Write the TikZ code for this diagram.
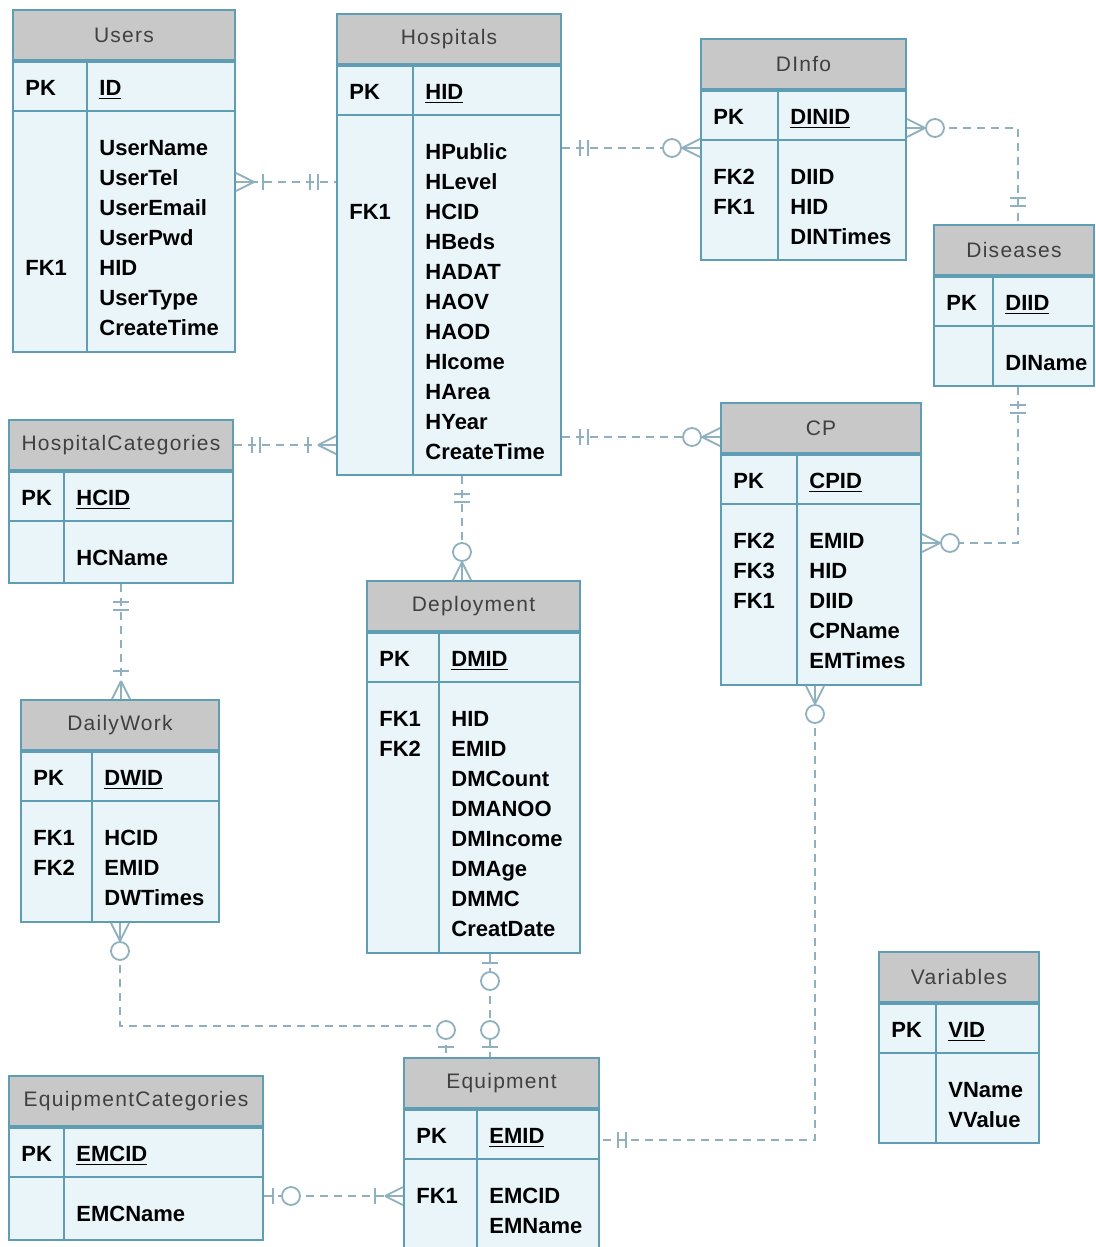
\documentclass[tikz,border=0pt]{standalone}
\usepackage{fontspec}
\setmainfont{Liberation Sans}
\newfontfamily\headfont[LetterSpace=6]{Liberation Sans}
\usepackage{tikz}
\usetikzlibrary{
    decorations.markings,
}
\usepackage{xcolor}
\definecolor{tabline}{HTML}{5E9DB3}
\definecolor{tabfill}{HTML}{EAF5FA}
\definecolor{tabhead}{HTML}{C8C8C8}
\definecolor{headtext}{HTML}{404040}
\definecolor{relline}{HTML}{8FB0BE}
\newdimen\erunit
\erunit=0.5pt
% #1 name, #2 top left, #3 width, #4 key column, #5 lower height,
% #6 title, #7 primary key, #8 remaining rows
\newcommand{\ertable}[8]{%
  \node[thead, minimum width=#3*\erunit, anchor=north west] (#1) at #2 {#6};
  \node[tbox, minimum width=#3*\erunit, minimum height=#5*\erunit,
        anchor=north west] (#1-b) at (#1.south west) {};
  \draw[tgrid] ([yshift=-25pt]#1-b.north west) -- ([yshift=-25pt]#1-b.north east);
  \draw[tgrid] ([xshift=#4*\erunit]#1-b.north west) -- ([xshift=#4*\erunit]#1-b.south west);
  \node[trows, anchor=north west] (#1-t) at ([xshift=6.5pt,yshift=-6.5pt]#1-b.north west)
    {\begin{tabular}{@{}p{\dimexpr#4\erunit-6.5pt\relax}@{\hspace{6pt}}l@{}}
       PK & \underline{#7}\\ & \\ #8
     \end{tabular}};
}

\begin{document}
\begin{tikzpicture}[
    x=0.5pt, y=-0.5pt,
    thead/.style = {draw=tabline, fill=tabhead, line width=1pt,
                    minimum height=25pt, inner sep=0pt, text=headtext,
                    font=\headfont\fontsize{10.5}{12}\selectfont},
    tbox/.style  = {draw=tabline, fill=tabfill, line width=1pt, inner sep=0pt},
    tgrid/.style = {draw=tabline, line width=1pt},
    trows/.style = {inner sep=0pt, font=\fontsize{11}{15}\selectfont\bfseries},
    rel/.style   = {draw=relline, line width=0.9pt, dash pattern=on 4pt off 3pt},
    relmark/.style = {draw=relline, line width=0.9pt, solid},
    from one/.style   = {postaction={decorate, decoration={markings,
        mark=at position 9pt with {\draw[relmark] (0,-4pt) -- (0,4pt);},
        mark=at position 13pt with {\draw[relmark] (0,-4pt) -- (0,4pt);}}}},
    to one/.style     = {postaction={decorate, decoration={markings,
        mark=at position -9pt with {\draw[relmark] (0,-4pt) -- (0,4pt);},
        mark=at position -13pt with {\draw[relmark] (0,-4pt) -- (0,4pt);}}}},
    from zmany/.style = {postaction={decorate, decoration={markings,
        mark=at position 9pt with {\draw[relmark] (0,0) -- (-9pt,4.5pt)
             (0,0) -- (-9pt,0) (0,0) -- (-9pt,-4.5pt);},
        mark=at position 14pt with {\draw[relmark, fill=white] (0,0) circle (4.5pt);}}}},
    to zmany/.style   = {postaction={decorate, decoration={markings,
        mark=at position -9pt with {\draw[relmark] (0,0) -- (9pt,4.5pt)
             (0,0) -- (9pt,0) (0,0) -- (9pt,-4.5pt);},
        mark=at position -14pt with {\draw[relmark, fill=white] (0,0) circle (4.5pt);}}}},
    from omany/.style = {postaction={decorate, decoration={markings,
        mark=at position 9pt with {\draw[relmark] (0,0) -- (-9pt,4.5pt)
             (0,0) -- (-9pt,0) (0,0) -- (-9pt,-4.5pt);},
        mark=at position 13.5pt with {\draw[relmark] (0,-4pt) -- (0,4pt);}}}},
    to omany/.style   = {postaction={decorate, decoration={markings,
        mark=at position -9pt with {\draw[relmark] (0,0) -- (9pt,4.5pt)
             (0,0) -- (9pt,0) (0,0) -- (9pt,-4.5pt);},
        mark=at position -14pt with {\draw[relmark] (0,-4pt) -- (0,4pt);}}}},
    from zone/.style  = {postaction={decorate, decoration={markings,
        mark=at position 4.5pt with {\draw[relmark] (0,-4pt) -- (0,4pt);},
        mark=at position 13.5pt with {\draw[relmark, fill=white] (0,0) circle (4.5pt);}}}},
    to zone/.style    = {postaction={decorate, decoration={markings,
        mark=at position -5pt with {\draw[relmark] (0,-4pt) -- (0,4pt);},
        mark=at position -13.5pt with {\draw[relmark, fill=white] (0,0) circle (4.5pt);}}}},
]
\useasboundingbox (0,0) rectangle (1096,1247);

%% ── Tables ───────────────────────────────────────────────────────────────────
\ertable{users}{(12,9)}{222}{75}{290}{Users}{ID}
  {& UserName\\ & UserTel\\ & UserEmail\\ & UserPwd\\ FK1 & HID\\ & UserType\\ & CreateTime}

\ertable{hospitals}{(336,13)}{224}{77}{409}{Hospitals}{HID}
  {& HPublic\\ & HLevel\\ FK1 & HCID\\ & HBeds\\ & HADAT\\ & HAOV\\ & HAOD\\
   & HIcome\\ & HArea\\ & HYear\\ & CreateTime}

\ertable{dinfo}{(700,38)}{205}{78}{169}{DInfo}{DINID}
  {FK2 & DIID\\ FK1 & HID\\ & DINTimes}

\ertable{diseases}{(933,224)}{160}{60}{109}{Diseases}{DIID}
  {& DIName}

\ertable{hcat}{(8,419)}{224}{56}{111}{HospitalCategories}{HCID}
  {& HCName}

\ertable{cp}{(720,402)}{200}{77}{230}{CP}{CPID}
  {FK2 & EMID\\ FK3 & HID\\ FK1 & DIID\\ & CPName\\ & EMTimes}

\ertable{deployment}{(366,580)}{213}{73}{320}{Deployment}{DMID}
  {FK1 & HID\\ FK2 & EMID\\ & DMCount\\ & DMANOO\\ & DMIncome\\ & DMAge\\
   & DMMC\\ & CreatDate}

\ertable{dailywork}{(20,699)}{198}{72}{170}{DailyWork}{DWID}
  {FK1 & HCID\\ FK2 & EMID\\ & DWTimes}

\ertable{variables}{(878,951)}{160}{58}{139}{Variables}{VID}
  {& VName\\ & VValue}

\ertable{eqcat}{(8,1075)}{254}{56}{112}{EquipmentCategories}{EMCID}
  {& EMCName}

\ertable{equipment}{(403,1057)}{195}{74}{138}{Equipment}{EMID}
  {FK1 & EMCID\\ & EMName}

%% ── Relationships ────────────────────────────────────────────────────────────
\draw[rel, from omany, to one] (users-b.east |- 0,182) -- (hospitals-b.west |- 0,182);
\draw[rel, from one, to zmany] (hospitals-b.east |- 0,148) -- (dinfo-b.west |- 0,148);
\draw[rel, from zmany, to one] (dinfo-b.east |- 0,128) -| (diseases.north -| 1018,0);
\draw[rel, from one, to zmany] (diseases-b.south -| 1018,0) |- (cp-b.east |- 0,543);
\draw[rel, from one, to zmany] (hospitals-b.east |- 0,437) -- (cp.west |- 0,437);
\draw[rel, from one, to omany] (hcat.east) -- (hcat.east -| hospitals-b.west);
\draw[rel, from one, to omany] (hcat-b.south) -- (hcat-b.south |- dailywork.north);
\draw[rel, from one, to zmany] (hospitals-b.south -| 462,0) -- (deployment.north -| 462,0);
\draw[rel, from zmany, to one] (cp-b.south -| 815,0) |- (equipment-b.east |- 0,1140);
\draw[rel, from zmany, to zone] (dailywork-b.south) -- ++(0,103) -| (equipment.north -| 446,0);
\draw[rel, from zone, to zone] (deployment-b.south -| 490,0) -- (equipment.north -| 490,0);
\draw[rel, from zone, to omany] (eqcat-b.east |- 0,1196) -- (equipment-b.west |- 0,1196);

\end{tikzpicture}
\end{document}
